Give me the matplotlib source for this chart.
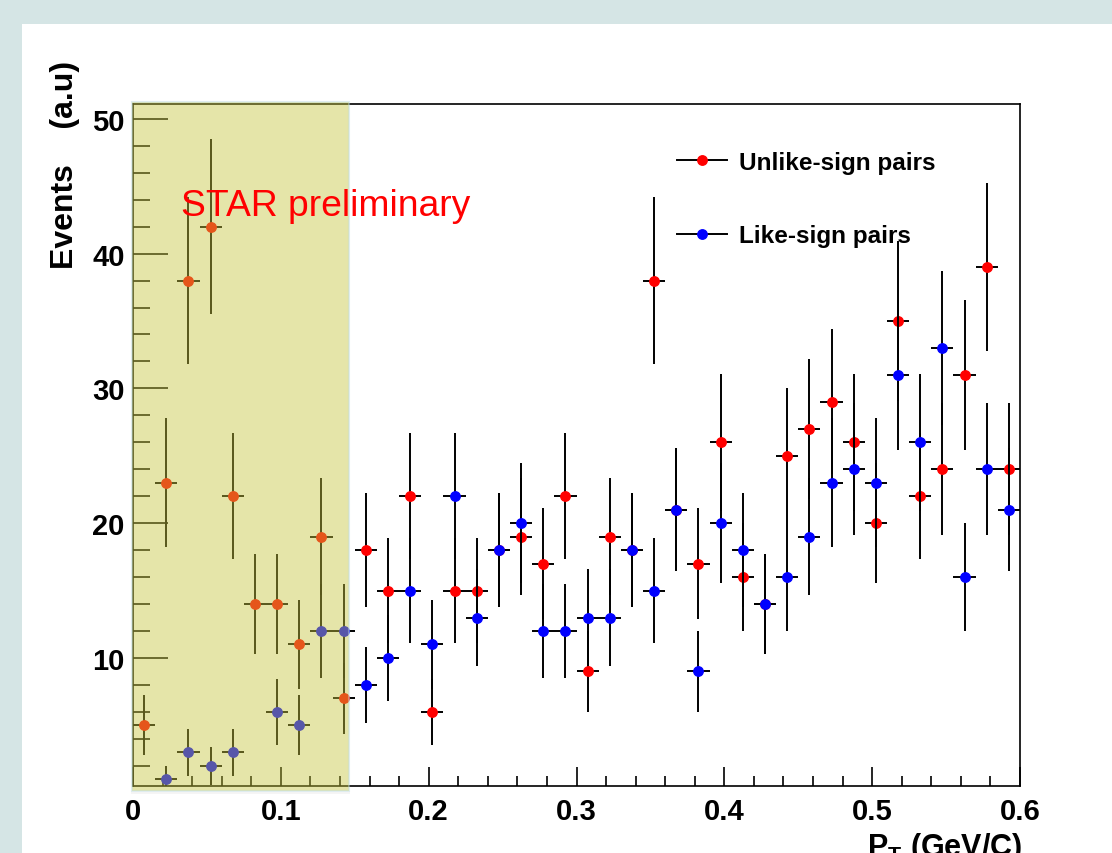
import numpy as np
import matplotlib
matplotlib.use("Agg")
import matplotlib.pyplot as plt
from matplotlib.lines import Line2D
from matplotlib.patches import Rectangle

plt.rcParams["font.family"] = ["Liberation Sans", "DejaVu Sans"]
plt.rcParams["mathtext.fontset"] = "custom"
plt.rcParams["mathtext.bf"] = "Liberation Sans:bold"
plt.rcParams["mathtext.rm"] = "Liberation Sans:bold"

# pT bins (GeV/c), width 0.015
bin_width = 0.015
bin_centers = np.arange(40) * bin_width + bin_width / 2

unlike_sign = [5, 23, 38, 42, 22, 14, 14, 11, 19, 7,
               18, 15, 22, 6, 15, 15, 18, 19, 17, 22,
               9, 19, 18, 38, 21, 17, 26, 16, 14, 25,
               27, 29, 26, 20, 35, 22, 24, 31, 39, 24]
like_sign = [np.nan, 1, 3, 2, 3, np.nan, 6, 5, 12, 12,
             8, 10, 15, 11, 22, 13, 18, 20, 12, 12,
             13, 13, 18, 15, 21, 9, 20, 18, 14, 16,
             19, 23, 24, 23, 31, 26, 33, 16, 24, 21]

unlike_sign = np.array(unlike_sign, dtype=float)
like_sign = np.array(like_sign, dtype=float)

fig = plt.figure(figsize=(11.12, 8.54), dpi=100)
fig.patch.set_facecolor("#d5e5e5")
fig.add_artist(Rectangle((22 / 1112, 0), 1, 1 - 25 / 854,
                         transform=fig.transFigure, facecolor="white",
                         edgecolor="none", zorder=0))

ax = fig.add_axes([133 / 1112, 1 - 787 / 854, 887 / 1112, 682 / 854])

eb = dict(fmt="o", ms=6.8, ecolor="black", elinewidth=1.4, capsize=0)
ax.errorbar(bin_centers, unlike_sign, xerr=bin_width / 2, yerr=np.sqrt(unlike_sign),
            color="#ff0000", mec="#ff0000", zorder=3, **eb)
ax.errorbar(bin_centers, like_sign, xerr=bin_width / 2, yerr=np.sqrt(like_sign),
            color="#0000ff", mec="#0000ff", zorder=4, **eb)

ax.set_xlim(0, 0.6)
ax.set_ylim(0.5, 51.1)
ax.set_xticks(np.arange(0, 0.61, 0.1))
ax.set_xticklabels(["0", "0.1", "0.2", "0.3", "0.4", "0.5", "0.6"])
ax.set_xticks(np.arange(0, 0.601, 0.02), minor=True)
ax.set_yticks([10, 20, 30, 40, 50])
ax.set_yticks(np.arange(2, 51, 2), minor=True)
ax.tick_params(axis="both", which="both", direction="in", top=False, right=False,
               labelsize=21, width=1.2)
ax.tick_params(axis="x", which="major", length=14, pad=8)
ax.tick_params(axis="x", which="minor", length=7)
ax.tick_params(axis="y", which="major", length=25, pad=6)
ax.tick_params(axis="y", which="minor", length=12)
for lbl in ax.get_xticklabels() + ax.get_yticklabels():
    lbl.set_fontweight("bold")
for sp in ax.spines.values():
    sp.set_linewidth(1.2)

# highlighted low-pT region
ax.add_patch(Rectangle((-0.0015, -0.012), 0.148, 1.017, transform=ax.get_xaxis_transform(),
                       facecolor="#7f7f7f", alpha=0.07, edgecolor="none",
                       clip_on=False, zorder=9))
ax.add_patch(Rectangle((-0.001, -0.007), 0.147, 1.01, transform=ax.get_xaxis_transform(),
                       facecolor="#cfcd39", alpha=0.4, edgecolor="#bfdfe6", lw=1.5,
                       clip_on=False, zorder=10))

ax.text(0.0325, 42.86, "STAR preliminary", color="#ff0000", fontsize=26.8,
        va="baseline", ha="left", zorder=12)

handles = [
    Line2D([0], [0], color="black", lw=1.4, marker="o", ms=6.8, mfc="#ff0000", mec="#ff0000"),
    Line2D([0], [0], color="black", lw=1.4, marker="o", ms=6.8, mfc="#0000ff", mec="#0000ff"),
]
leg = ax.legend(handles, ["Unlike-sign pairs", "Like-sign pairs"], loc="upper left",
                bbox_to_anchor=(677 / 1112, 1 - 152 / 854), bbox_transform=fig.transFigure,
                frameon=False, borderpad=0, borderaxespad=0, handlelength=2.05,
                handletextpad=0.5, labelspacing=2.07, prop={"size": 17.5, "weight": "bold"})

fig.text(65 / 1112, 1 - 61 / 854, "Events    (a.u)", rotation=90, ha="center", va="top",
         fontsize=23, fontweight="bold")
fig.text(1022 / 1112, -2 / 854, r"$\mathbf{P_T}$ (GeV/C)", ha="right", va="baseline",
         fontsize=22, fontweight="bold")

fig.savefig("out.png", dpi=100, facecolor=fig.get_facecolor())
